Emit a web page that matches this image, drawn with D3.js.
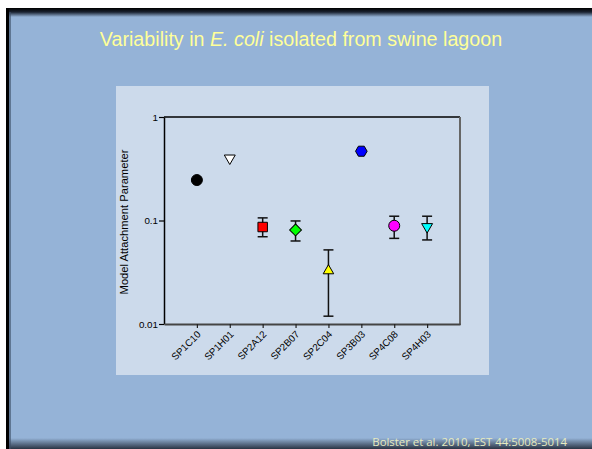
<!DOCTYPE html>
<html><head><meta charset="utf-8">
<script src="https://cdn.jsdelivr.net/npm/d3@7"></script>
<style>html,body{margin:0;padding:0;background:#fff;}svg{display:block;}</style>
</head><body>
<script>
const categories = ["SP1C10","SP1H01","SP2A12","SP2B07","SP2C04","SP3B03","SP4C08","SP4H03"];
const values     = [0.246, 0.40, 0.0865, 0.081, 0.0327, 0.467, 0.089, 0.087];
const errUpper   = [null, null, 0.106, 0.099, 0.052, null, 0.110, 0.110];
const errLower   = [null, null, 0.0697, 0.0634, 0.0119, null, 0.0672, 0.0649];
const markers    = ["circle","triangleDown","square","diamond","triangleUp","hexagon","circle","triangleDown"];
const fills      = ["#000000","#ffffff","#ff0000","#00ff00","#ffff00","#0000ff","#ff00ff","#00ffff"];
const yTicks     = [1, 0.1, 0.01];
const yTickLabels = ["1","0.1","0.01"];
const title = ["Variability in ", "E. coli", " isolated from swine lagoon"];
const footer = "Bolster et al. 2010, EST 44:5008-5014";
const yLabel = "Model Attachment Parameter";

(function(){
const W = 592, H = 449;
const svg = d3.select("body").append("svg").attr("width", W).attr("height", H);
const defs = svg.append("defs");
const gTop = defs.append("linearGradient").attr("id","gtop").attr("x1",0).attr("y1",0).attr("x2",0).attr("y2",1);
gTop.append("stop").attr("offset","0").attr("stop-color","#000");
gTop.append("stop").attr("offset","0.45").attr("stop-color","#1a2230");
gTop.append("stop").attr("offset","1").attr("stop-color","#95b3d7");
const gBot = defs.append("linearGradient").attr("id","gbot").attr("x1",0).attr("y1",0).attr("x2",0).attr("y2",1);
gBot.append("stop").attr("offset","0").attr("stop-color","#95b3d7");
gBot.append("stop").attr("offset","1").attr("stop-color","#2a3444");

// slide
svg.append("rect").attr("x",6).attr("y",8).attr("width",W-6).attr("height",H-8).attr("fill","#95b3d7");
svg.append("rect").attr("x",6).attr("y",8).attr("width",W-6).attr("height",9).attr("fill","url(#gtop)");
svg.append("rect").attr("x",6).attr("y",438).attr("width",W-6).attr("height",11).attr("fill","url(#gbot)");
svg.append("rect").attr("x",6).attr("y",8).attr("width",3).attr("height",H-8).attr("fill","#000");
svg.append("rect").attr("x",9).attr("y",12).attr("width",2).attr("height",H-12).attr("fill","#3c4c64").attr("opacity",0.6);

// title
const tt = svg.append("text").attr("x", 301).attr("y", 46).attr("text-anchor","middle")
  .attr("font-family","Liberation Sans, Arial, sans-serif").attr("font-size",19.7).attr("fill","#ffff99");
tt.append("tspan").text(title[0]);
tt.append("tspan").attr("font-style","italic").text(title[1]);
tt.append("tspan").text(title[2]);

// footer
svg.append("text").attr("x", 567).attr("y", 445.5).attr("text-anchor","end")
  .attr("font-family","Open Sans, Lato, sans-serif").attr("font-size",11.4).attr("fill","#e6ebc0").text(footer);

// chart panel
svg.append("rect").attr("x",116).attr("y",86).attr("width",373).attr("height",289).attr("fill","#ccdaeb");

const pL = 164, pR = 460, pT = 117, pB = 324;
const x = d3.scalePoint().domain(categories).range([pL, pR]).padding(1);
const y = d3.scaleLog().domain([0.01, 1]).range([pB, pT]);

// frame: top and right
svg.append("line").attr("x1",pL).attr("x2",pR).attr("y1",pT).attr("y2",pT).attr("stroke","#000").attr("stroke-width",1.5);
svg.append("line").attr("x1",pR).attr("x2",pR).attr("y1",pT).attr("y2",pB+1).attr("stroke","#666").attr("stroke-width",2);

const font = "Liberation Sans, Arial, sans-serif";
// y axis
const ya = svg.append("g").attr("transform",`translate(${pL},0)`)
  .call(d3.axisLeft(y).tickValues(yTicks).tickFormat((d,i)=>yTickLabels[i]).tickSize(5).tickSizeOuter(0));
ya.select(".domain").attr("stroke","#000").attr("stroke-width",1.5);
ya.selectAll(".tick line").attr("stroke","#000").attr("stroke-width",1.2);
ya.selectAll("text").attr("font-family",font).attr("font-size",9.8).attr("fill","#000").attr("x",-6);

// x axis
const xa = svg.append("g").attr("transform",`translate(0,${pB})`)
  .call(d3.axisBottom(x).tickSize(4).tickSizeOuter(0));
xa.select(".domain").attr("stroke","#444").attr("stroke-width",2);
xa.selectAll(".tick line").attr("stroke","#222").attr("stroke-width",1.2);
xa.selectAll("text").attr("font-family",font).attr("font-size",9.8).attr("fill","#000")
  .attr("text-anchor","end").attr("dy",null).attr("y",0)
  .attr("transform","translate(4,11) rotate(-45)");

// y label
svg.append("text").attr("transform",`translate(128,222) rotate(-90)`).attr("text-anchor","middle")
  .attr("font-family",font).attr("font-size",11.2).attr("fill","#000").text(yLabel);

// error bars
const data = categories.map((c,i)=>({c, v:values[i], hi:errUpper[i], lo:errLower[i], m:markers[i], f:fills[i]}));
const eb = svg.append("g");
data.filter(d=>d.hi!=null).forEach(d=>{
  const cx = x(d.c);
  eb.append("line").attr("x1",cx).attr("x2",cx).attr("y1",y(d.hi)).attr("y2",y(d.lo)).attr("stroke","#111").attr("stroke-width",1.5);
  [d.hi,d.lo].forEach(v=>eb.append("line").attr("x1",cx-5).attr("x2",cx+5).attr("y1",y(v)).attr("y2",y(v)).attr("stroke","#111").attr("stroke-width",1.5));
});

// markers
const hexPath = (r)=>{ const pts=d3.range(6).map(k=>[r*Math.cos(k*Math.PI/3), r*Math.sin(k*Math.PI/3)]); return d3.line()(pts)+"Z"; };
const shape = m => {
  switch(m){
    case "circle": return d3.symbol(d3.symbolCircle, 95)();
    case "square": return d3.symbol(d3.symbolSquare, 90)();
    case "diamond": return d3.symbol(d3.symbolSquare, 70)();
    case "triangleUp": return d3.symbol(d3.symbolTriangle, 48)();
    case "triangleDown": return d3.symbol(d3.symbolTriangle, 52)();
    case "hexagon": return hexPath(5.8);
  }
};
const rot = m => m==="triangleDown" ? " rotate(180)" : (m==="diamond" ? " rotate(45)" : "");
svg.append("g").selectAll("path").data(data).join("path")
  .attr("d", d=>shape(d.m))
  .attr("transform", d=>`translate(${x(d.c)},${y(d.v)})${rot(d.m)}`)
  .attr("fill", d=>d.f).attr("stroke","#000").attr("stroke-width",1);
})();
</script>
</body></html>
